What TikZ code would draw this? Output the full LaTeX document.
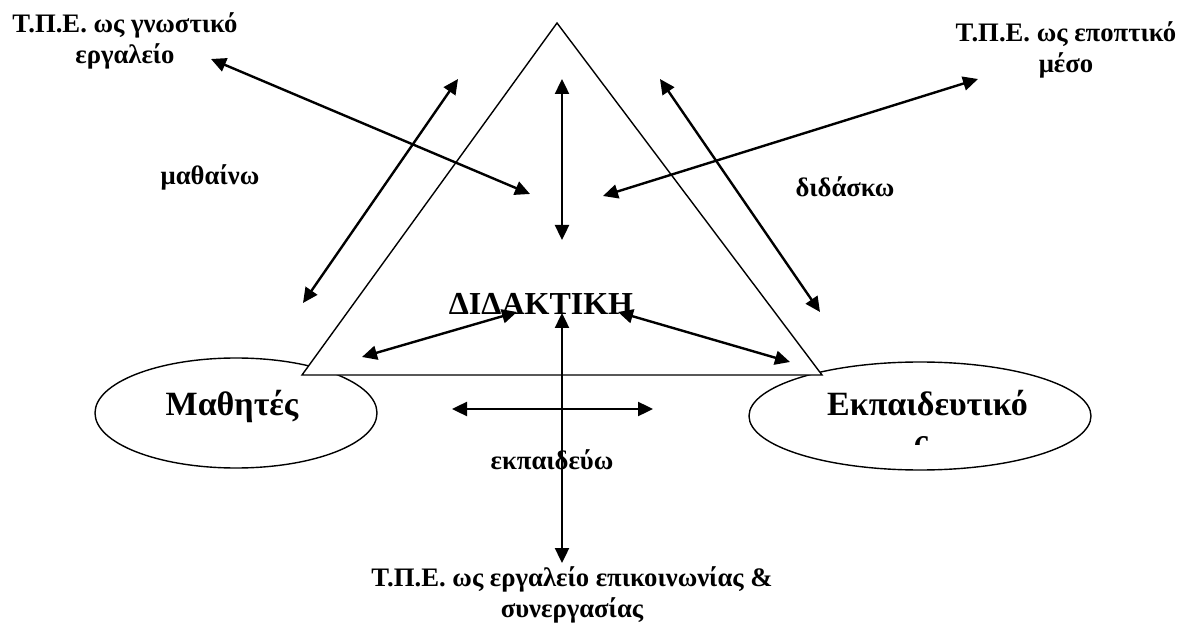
\documentclass[tikz,border=0pt]{standalone}
\usepackage{fontspec}
\setmainfont{Liberation Serif}
\usetikzlibrary{arrows.meta,shapes.geometric}
\begin{document}
\begin{tikzpicture}[x=1pt,y=-1pt,
  dbl/.style={{Triangle[length=15pt,width=14pt]}-{Triangle[length=15pt,width=14pt]}, line width=2.4pt},
  outline/.style={draw, line width=1.4pt},
  big/.style={font=\fontsize{34}{37}\selectfont\bfseries, inner sep=0pt},
  small/.style={font=\fontsize{26.7}{31}\selectfont\bfseries, align=center, inner sep=0pt}]
\useasboundingbox (0,0) rectangle (1189,628);
% ellipses
\node[outline, ellipse, minimum width=282pt, minimum height=110pt] (mathites) at (236,413) {};
\node[outline, ellipse, minimum width=342pt, minimum height=108pt] (ekp) at (920,416) {};
% triangle
\coordinate (apex) at (557,23);
\coordinate (bl) at (302,375);
\coordinate (br) at (822,375);
\draw[outline, fill=white] (apex) -- (bl) -- (br) -- cycle;
% texts
\node[big, anchor=base] (tm) at (232,415) {Μαθητές};
\node[big, anchor=base west] (te) at (827,415) {Εκπαιδευτικό};
\begin{scope}
\clip (900,430) rectangle (945,444);
\node[big, anchor=base] (tes) at (921,452) {ς};
\end{scope}
\node[big, font=\fontsize{32}{36}\selectfont\bfseries, anchor=base] (did) at (541,315) {ΔΙΔΑΚΤΙΚΗ};
\node[small] (l1) at (125,41) {Τ.Π.Ε. ως γνωστικό\\εργαλείο};
\node[small] (l2) at (1066,50) {Τ.Π.Ε. ως εποπτικό\\μέσο};
\node[small] (l3) at (572,595) {Τ.Π.Ε. ως εργαλείο επικοινωνίας \&\\συνεργασίας};
\node[small] (mth) at (210,177) {μαθαίνω};
\node[small] (dd) at (845,187) {διδάσκω};
\node[small] (ek) at (552,460) {εκπαιδεύω};
% arrow end points
\coordinate (a1s) at (211,59);  \coordinate (a1e) at (530,194);
\coordinate (a2s) at (603,196); \coordinate (a2e) at (978,79);
\coordinate (a3s) at (562,79);  \coordinate (a3e) at (562,240);
\coordinate (a4s) at (458,79);  \coordinate (a4e) at (303,303);
\coordinate (a5s) at (660,79);  \coordinate (a5e) at (820,312);
\coordinate (a6s) at (362,357); \coordinate (a6e) at (517,312);
\coordinate (a7s) at (618,312); \coordinate (a7e) at (790,362);
\coordinate (a8s) at (562,313); \coordinate (a8e) at (562,563);
\coordinate (a9s) at (452,409); \coordinate (a9e) at (653,409);
\foreach \i in {1,...,9} {\draw[dbl] (a\i s) -- (a\i e);}
\end{tikzpicture}
\end{document}
